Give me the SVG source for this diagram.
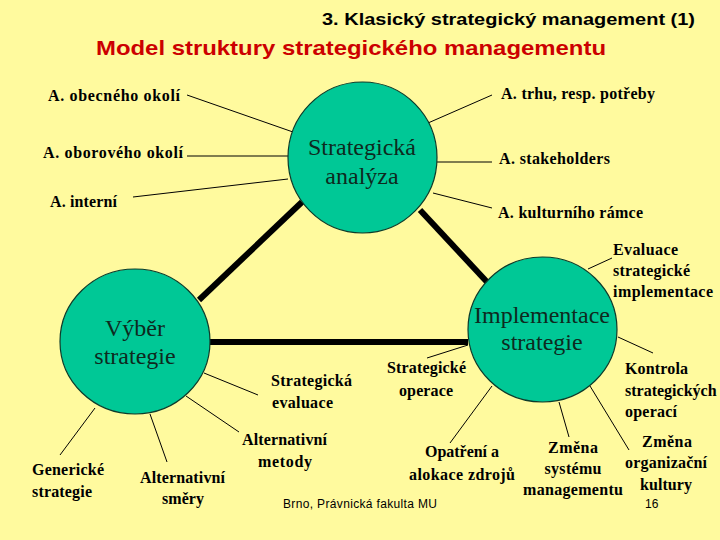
<svg xmlns="http://www.w3.org/2000/svg" width="720" height="540" viewBox="0 0 720 540">
<style>
.bg{fill:#FFFA9E}
.node{fill:#00C896;stroke:#0B3B2B;stroke-width:1.2}
.ct{font-family:'Liberation Serif','DejaVu Serif','Noto Serif',serif;font-size:24px;fill:#0E2A1E;text-anchor:middle}
.lb{font-family:'Liberation Serif','DejaVu Serif','Noto Serif',serif;font-size:16px;font-weight:bold;fill:#000}
.mid{text-anchor:middle}
.thin{stroke:#000;stroke-width:1;fill:none}
.thick{stroke:#000;stroke-width:6;fill:none}
.h1{font-family:'Liberation Sans',Arial,sans-serif;font-weight:bold;font-size:17px;fill:#000}
.h2{font-family:'Liberation Sans',Arial,sans-serif;font-weight:bold;font-size:21px;fill:#CC0000}
.ft{font-family:'Liberation Sans',Arial,sans-serif;font-size:12px;fill:#000}
</style>
<rect class="bg" x="0" y="0" width="720" height="540"/>
<text class="h1" x="322" y="25" textLength="373" lengthAdjust="spacingAndGlyphs">3. Klasický strategický management (1)</text>
<text class="h2" x="96" y="55" textLength="510" lengthAdjust="spacingAndGlyphs">Model struktury strategického managementu</text>

<g id="connectors">
<line class="thick" x1="302" y1="202" x2="199" y2="300"/>
<line class="thick" x1="420" y1="210" x2="487" y2="282"/>
<line class="thick" x1="210" y1="342" x2="468" y2="342"/>
<line class="thin" x1="187" y1="95" x2="293" y2="132"/>
<line class="thin" x1="187" y1="156" x2="288" y2="156"/>
<line class="thin" x1="133" y1="197" x2="288" y2="179"/>
<line class="thin" x1="428" y1="123" x2="492" y2="95"/>
<line class="thin" x1="437" y1="162" x2="492" y2="162"/>
<line class="thin" x1="433" y1="193" x2="492" y2="208"/>
<line class="thin" x1="588" y1="269" x2="612" y2="258"/>
<line class="thin" x1="618" y1="337" x2="653" y2="353"/>
<line class="thin" x1="468" y1="345" x2="427" y2="358"/>
<line class="thin" x1="492" y1="386" x2="450" y2="443"/>
<line class="thin" x1="559" y1="402" x2="569" y2="437"/>
<line class="thin" x1="590" y1="386" x2="629" y2="450"/>
<line class="thin" x1="204" y1="373" x2="258" y2="395"/>
<line class="thin" x1="186" y1="396" x2="239" y2="432"/>
<line class="thin" x1="95" y1="408" x2="60" y2="455"/>
<line class="thin" x1="150" y1="414" x2="167" y2="462"/>
</g>

<g id="analyza">
<ellipse class="node" cx="362.5" cy="157.5" rx="74.5" ry="75.5"/>
<text class="ct" x="362" y="155">Strategická</text>
<text class="ct" x="362" y="184">analýza</text>
</g>
<g id="vyber">
<ellipse class="node" cx="135" cy="341.5" rx="75" ry="72.5"/>
<text class="ct" x="135" y="336">Výběr</text>
<text class="ct" x="135" y="364">strategie</text>
</g>
<g id="implementace">
<ellipse class="node" cx="542.5" cy="329.5" rx="74.5" ry="72.5"/>
<text class="ct" x="542" y="323" textLength="136" lengthAdjust="spacingAndGlyphs">Implementace</text>
<text class="ct" x="542" y="350">strategie</text>
</g>

<g id="a-obecne"><text class="lb" x="48" y="101" textLength="132">A. obecného okolí</text></g>
<g id="a-oborove"><text class="lb" x="43" y="158" textLength="140">A. oborového okolí</text></g>
<g id="a-interni"><text class="lb" x="50" y="207" textLength="67">A. interní</text></g>
<g id="a-trhu"><text class="lb" x="501" y="99" textLength="154">A. trhu, resp. potřeby</text></g>
<g id="a-stake"><text class="lb" x="499" y="164" textLength="111">A. stakeholders</text></g>
<g id="a-kult"><text class="lb" x="498" y="218" textLength="145">A. kulturního rámce</text></g>

<g id="evaluace-impl">
<text class="lb" x="613" y="255" textLength="65">Evaluace</text>
<text class="lb" x="613" y="276" textLength="77">strategické</text>
<text class="lb" x="613" y="297" textLength="100">implementace</text>
</g>
<g id="kontrola">
<text class="lb" x="625" y="374" textLength="63">Kontrola</text>
<text class="lb" x="625" y="396">strategických</text>
<text class="lb" x="625" y="417" textLength="52">operací</text>
</g>
<g id="operace">
<text class="lb mid" x="426.5" y="373" textLength="79">Strategické</text>
<text class="lb mid" x="426" y="396" textLength="54">operace</text>
</g>
<g id="opatreni">
<text class="lb mid" x="462" y="457" textLength="74">Opatření a</text>
<text class="lb mid" x="462" y="480" textLength="106">alokace zdrojů</text>
</g>
<g id="zmena-sys">
<text class="lb mid" x="573" y="453" textLength="50">Změna</text>
<text class="lb mid" x="573" y="474" textLength="57">systému</text>
<text class="lb mid" x="573" y="495" textLength="100">managementu</text>
</g>
<g id="zmena-kult">
<text class="lb mid" x="667" y="447" textLength="50">Změna</text>
<text class="lb mid" x="666" y="468" textLength="82">organizační</text>
<text class="lb mid" x="666" y="490" textLength="52">kultury</text>
</g>
<g id="evaluace-strat">
<text class="lb" x="271" y="386" textLength="81">Strategická</text>
<text class="lb" x="272" y="408" textLength="61">evaluace</text>
</g>
<g id="alt-metody">
<text class="lb mid" x="284.5" y="445" textLength="85">Alternativní</text>
<text class="lb mid" x="285" y="467" textLength="54">metody</text>
</g>
<g id="genericke">
<text class="lb" x="32" y="475" textLength="72">Generické</text>
<text class="lb" x="32" y="497" textLength="60">strategie</text>
</g>
<g id="alt-smery">
<text class="lb mid" x="182.5" y="483" textLength="85">Alternativní</text>
<text class="lb mid" x="183" y="504" textLength="42">směry</text>
</g>

<text class="ft" x="283" y="508" textLength="154">Brno, Právnická fakulta MU</text>
<text class="ft" x="645" y="508">16</text>
</svg>
